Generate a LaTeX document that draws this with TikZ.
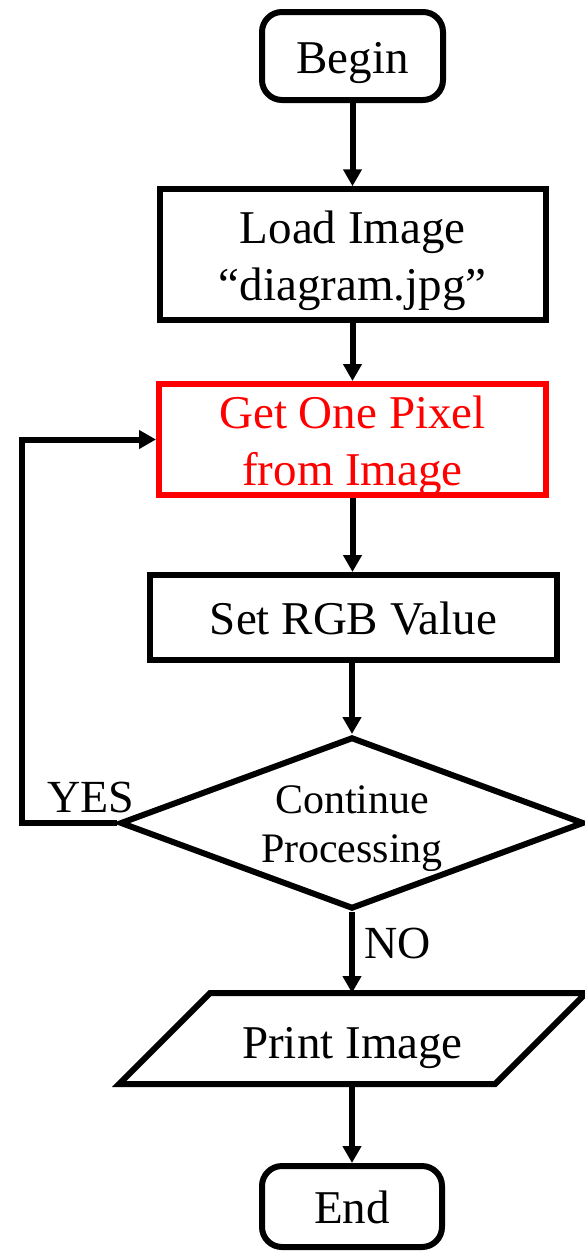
\documentclass[tikz,border=0pt]{standalone}
\usepackage{fontspec}
\setmainfont{Liberation Serif}
\usetikzlibrary{arrows.meta,shapes.geometric}
\newcommand\pptl[1]{\raisebox{0pt}[0.93em][0.2em]{#1}}
\begin{document}
\begin{tikzpicture}[x=1pt,y=-1pt,
  box/.style={draw=black,line width=6pt,rectangle,inner sep=0pt,align=center,font=\fontsize{47}{57}\selectfont},
  term/.style={box,rounded corners=20pt},
  redbox/.style={box,draw=red,text=red},
  decision/.style={draw=black,line width=6pt,diamond,aspect=2.7,inner sep=0pt,align=center,font=\fontsize{42}{49}\selectfont},
  lbl/.style={inner sep=0pt,font=\fontsize{46}{54}\selectfont},
  arr/.style={-{Triangle[width=18pt,length=17pt]},line width=6pt,draw=black}]
\useasboundingbox (0,0) rectangle (584,1253);
\node[term,minimum width=181pt,minimum height=88pt] (begin) at (352.5,56) {\pptl{Begin}};
\node[box,minimum width=386pt,minimum height=131pt] (load) at (352.75,254.75) {\pptl{Load Image}\\\pptl{“diagram.jpg”}};
\node[redbox,minimum width=387pt,minimum height=111pt] (pixel) at (352.5,439.5) {\pptl{Get One Pixel}\\\pptl{from Image}};
\node[box,minimum width=407pt,minimum height=85pt] (rgb) at (353.5,617.5) {\pptl{Set RGB Value}};
\node[decision,minimum width=464pt,minimum height=172pt] (dia) at (352,823) {\pptl{Continue}\\\pptl{Processing}};
% parallelogram
\coordinate (pbl) at (119,1084);
\coordinate (pbr) at (495,1084);
\coordinate (ptr) at (586,993);
\coordinate (ptl) at (210,993);
\coordinate (ptop) at (352,993);
\coordinate (pbot) at (352,1084);
\draw[line width=6pt] (pbl) -- (pbr) -- (ptr) -- (ptl) -- cycle;
\node[inner sep=0pt,font=\fontsize{47}{57}\selectfont] (print) at (352.5,1041) {\pptl{Print Image}};
\node[term,minimum width=180pt,minimum height=81pt] (end) at (352,1206.5) {\pptl{End}};
% connectors
\draw[arr] (begin.south) -- (load.north -| begin.south);
\draw[arr] (load.south -| begin.south) -- (pixel.north -| begin.south);
\draw[arr] (pixel.south -| begin.south) -- (rgb.north -| begin.south);
\draw[arr] (rgb.south -| dia.north) -- (dia.north);
\draw[arr] (dia.south) -- (ptop);
\draw[arr] (pbot) -- (end.north);
\coordinate (yesx) at (21.5,823);
\draw[arr] (dia.west) -- (yesx) |- (pixel.west);
\node[lbl] (yes) at (91,797) {YES};
\node[lbl] (no) at (398,943) {NO};
\end{tikzpicture}
\end{document}
